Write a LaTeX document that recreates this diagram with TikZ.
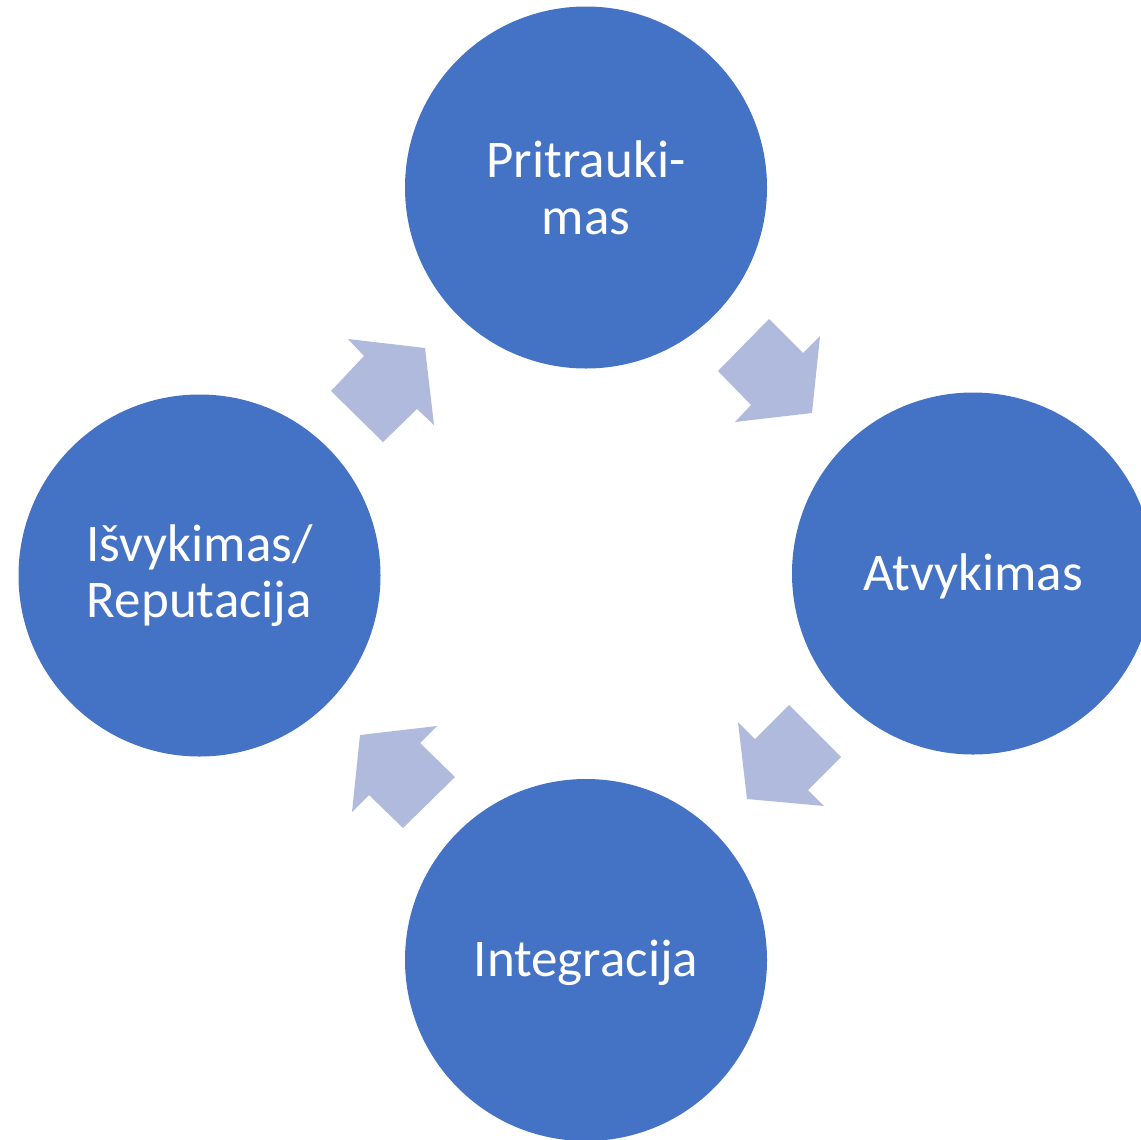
\documentclass[tikz,border=0pt]{standalone}
\usepackage{fontspec}
\setmainfont{Carlito}
\definecolor{circ}{HTML}{4472C4}
\definecolor{arr}{HTML}{AFBADD}
\begin{document}
\begin{tikzpicture}[x=0.75pt,y=-0.75pt,
  stage/.style={circle,fill=circ,minimum size=271.5pt,inner sep=0pt,text=white,
    font=\fontsize{39.75}{42.5}\selectfont,align=center},
  blockarrow/.style={fill=arr,draw=none}]
\useasboundingbox (0,0) rectangle (1141,1139);
\clip (0,0) rectangle (1141,1139);
\node[stage] (top) at (586,187.5) {Pritrauki-\\mas};
\node[stage,text depth=2pt] (right) at (973,573.5) {Atvykimas};
\node[stage,text depth=2pt] (bottom) at (586,960) {Integracija};
\node[stage,yshift=-1.5pt] (left) at (199.5,573.5) {Išvykimas/\\Reputacija};
% top -> right
\fill[blockarrow] (769,319) -- (803,353) -- (820,336) -- (812,413) -- (735,422) -- (751,405) -- (718,371) -- cycle;
% right -> bottom
\fill[blockarrow] (789,705) -- (841,757) -- (808,790) -- (824,806) -- (747,799) -- (738,722) -- (755,739) -- cycle;
% bottom -> left
\fill[blockarrow] (455,777) -- (420,743) -- (437,726) -- (360,735) -- (352,812) -- (369,795) -- (403,828) -- cycle;
% left -> top
\fill[blockarrow] (348,339) -- (425,348) -- (434,425) -- (417,409) -- (383,442) -- (331,391) -- (364,356) -- cycle;
\end{tikzpicture}
\end{document}
